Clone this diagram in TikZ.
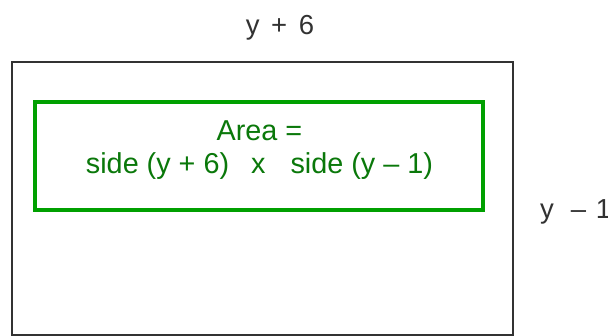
\documentclass[tikz,border=0pt]{standalone}
\usepackage{fontspec}
\setmainfont{Liberation Sans}
\definecolor{boxgreen}{RGB}{0,160,0}
\definecolor{textgreen}{RGB}{10,120,10}
\definecolor{outline}{RGB}{50,50,50}
\begin{document}
\begin{tikzpicture}[x=1pt,y=-1pt,
  outerrect/.style={draw=outline,line width=2pt},
  arearect/.style={draw=boxgreen,line width=3.2pt},
  lbl/.style={font=\fontsize{27.5}{31}\selectfont,text=outline,inner sep=0pt},
  areatext/.style={font=\fontsize{28.8}{33}\selectfont,text=textgreen,align=center,inner sep=0pt}]
\useasboundingbox (0,0) rectangle (608,336);
\fill[white] (0,0) rectangle (608,336);
\draw[outerrect] (12,62) rectangle (513,335);
\draw[arearect] (35,102) rectangle (483,210);
\node[areatext] (area) at (259.5,150.5) {Area =\\side (y + 6)\hspace{22pt}x\hspace{25pt}side (y – 1)};
\node[lbl,anchor=base] (top) at (280,35) {y\hspace{0.42em}+\hspace{0.42em}6};
\node[lbl,anchor=base west] (right) at (540,219) {y\hspace{0.62em}–\hspace{0.35em}1};
\end{tikzpicture}
\end{document}
